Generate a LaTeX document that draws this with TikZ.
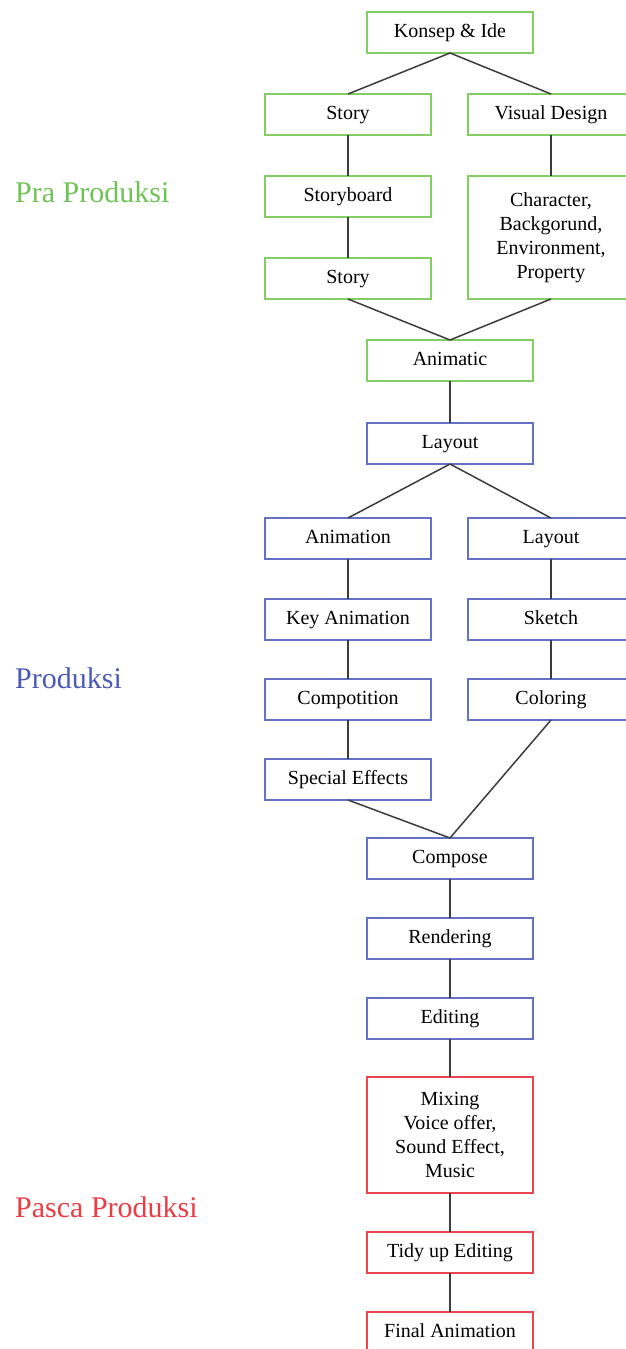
\documentclass[tikz,border=0pt]{standalone}
\usepackage{fontspec}
\setmainfont{Liberation Serif}
\usetikzlibrary{positioning}
\definecolor{praline}{RGB}{130,205,100}
\definecolor{pratext}{RGB}{110,195,85}
\definecolor{prodline}{RGB}{100,112,195}
\definecolor{prodtext}{RGB}{75,90,185}
\definecolor{pascaline}{RGB}{235,70,80}
\definecolor{pascatext}{RGB}{235,60,70}
\definecolor{linkgray}{RGB}{60,60,60}

\begin{document}
\begin{tikzpicture}[
            node distance=39pt,
            every node/.style={text centered, font=\fontsize{20}{24}\selectfont},
            prabox/.style={rectangle, draw=praline, line width=1.5pt, outer sep=0pt, minimum width=166pt, minimum height=41pt, inner sep=2pt, text height=14pt, text depth=4pt},
            prodbox/.style={prabox, draw=prodline},
            pascabox/.style={prabox, draw=pascaline},
            tallbox/.style={minimum height=#1, align=center, text height=, text depth=},
            phase/.style={anchor=west, inner sep=0pt, font=\fontsize{30}{36}\selectfont},
            link/.style={draw=linkgray, line width=1.5pt}
        ]
            \useasboundingbox (0,0) rectangle (626pt,-1349pt);
            \clip (0,0) rectangle (626pt,-1349pt);

            % Phases
            \node (pra) [phase, text=pratext] at (15pt,-192pt) {Pra Produksi};
            \node (prod) [phase, text=prodtext] at (15pt,-678pt) {Produksi};
            \node (pasca) [phase, text=pascatext] at (15pt,-1207pt) {Pasca Produksi};

            % Nodes
            \node (konsep) [prabox] at (450pt,-32.5pt) {Konsep \& Ide};
            \node (story) [prabox, below=41pt of konsep, xshift=-102pt] {Story};
            \node (visual) [prabox, below=41pt of konsep, xshift=101pt] {Visual Design};
            \node (storyboard) [prabox, below=41pt of story] {Storyboard};
            \node (storytwo) [prabox, below=41pt of storyboard] {Story};
            \node (character) [prabox, tallbox=123pt, below=41pt of visual] {Character,\\ Backgorund,\\ Environment,\\ Property};
            \node (animatic) [prabox, below=41pt of storytwo, xshift=102pt] {Animatic};

            \node (layout) [prodbox, below=42pt of animatic] {Layout};
            \node (animation) [prodbox, below=54pt of layout, xshift=-102pt] {Animation};
            \node (layouttwo) [prodbox, below=54pt of layout, xshift=101pt] {Layout};
            \node (keyanim) [prodbox, below=40pt of animation] {Key Animation};
            \node (sketch) [prodbox, below=40pt of layouttwo] {Sketch};
            \node (compotition) [prodbox, below=39pt of keyanim] {Compotition};
            \node (coloring) [prodbox, below=39pt of sketch] {Coloring};
            \node (effects) [prodbox, below=39pt of compotition] {Special Effects};
            \node (compose) [prodbox, below=38pt of effects, xshift=102pt] {Compose};
            \node (rendering) [prodbox, below=39pt of compose] {Rendering};
            \node (editing) [prodbox, below=39pt of rendering] {Editing};

            \node (mixing) [pascabox, tallbox=116pt, below=38pt of editing] {Mixing\\ Voice offer,\\ Sound Effect,\\ Music};
            \node (tidy) [pascabox, below=39pt of mixing] {Tidy up Editing};
            \node (final) [pascabox, below=39pt of tidy] {Final Animation};

            % Lines
            \draw [link] (konsep.south) -- (story.north);
            \draw [link] (konsep.south) -- (visual.north);
            \draw [link] (story) -- (storyboard);
            \draw [link] (storyboard) -- (storytwo);
            \draw [link] (visual) -- (character);
            \draw [link] (storytwo.south) -- (animatic.north);
            \draw [link] (character.south) -- (animatic.north);
            \draw [link] (animatic) -- (layout);
            \draw [link] (layout.south) -- (animation.north);
            \draw [link] (layout.south) -- (layouttwo.north);
            \draw [link] (animation) -- (keyanim);
            \draw [link] (keyanim) -- (compotition);
            \draw [link] (compotition) -- (effects);
            \draw [link] (layouttwo) -- (sketch);
            \draw [link] (sketch) -- (coloring);
            \draw [link] (effects.south) -- (compose.north);
            \draw [link] (coloring.south) -- (compose.north);
            \draw [link] (compose) -- (rendering);
            \draw [link] (rendering) -- (editing);
            \draw [link] (editing) -- (mixing);
            \draw [link] (mixing) -- (tidy);
            \draw [link] (tidy) -- (final);
        \end{tikzpicture}
\end{document}
